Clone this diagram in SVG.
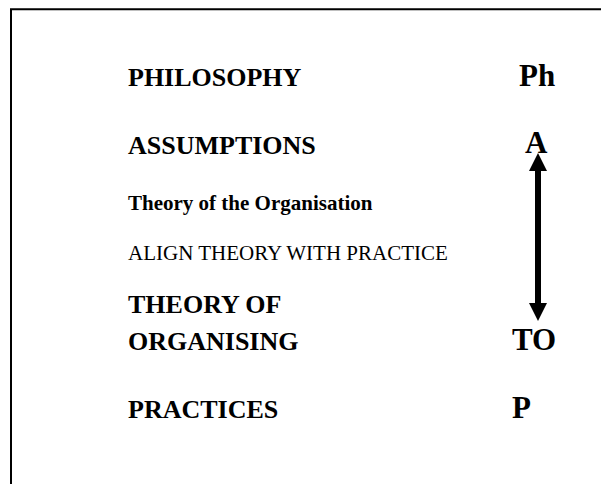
<svg xmlns="http://www.w3.org/2000/svg" width="601" height="484" viewBox="0 0 601 484">
<style>
.b{font-family:"Liberation Serif","Times New Roman",serif;font-weight:bold;fill:#000}
.r{font-family:"Liberation Serif","Times New Roman",serif;fill:#000}
.lg{font-size:26px}
.xl{font-size:31px}
.sm{font-size:21px}
</style>
<defs>
<marker id="ah" viewBox="0 0 10 10" refX="10" refY="5" markerWidth="3" markerHeight="3" orient="auto-start-reverse" markerUnits="strokeWidth">
<path d="M0,0 L10,5 L0,10 z" fill="#000"/>
</marker>
</defs>
<rect width="601" height="484" fill="#fff"/>
<path d="M11,484 V9.3 H601" fill="none" stroke="#000" stroke-width="2"/>
<g id="philosophy"><text class="b lg" x="128" y="86">PHILOSOPHY</text><text class="b xl" x="519" y="86">Ph</text></g>
<g id="assumptions"><text class="b lg" x="128" y="154">ASSUMPTIONS</text><text class="b xl" x="525" y="153">A</text></g>
<g id="theory-org"><text class="b sm" x="128" y="210">Theory of the Organisation</text></g>
<g id="align"><text class="r sm" x="128" y="260">ALIGN THEORY WITH PRACTICE</text></g>
<g id="theory-organising"><text class="b lg" x="128" y="313">THEORY OF</text><text class="b lg" x="128" y="350">ORGANISING</text><text class="b xl" x="512" y="350">TO</text></g>
<g id="practices"><text class="b lg" x="128" y="418">PRACTICES</text><text class="b xl" x="512" y="418">P</text></g>
<g id="connectors">
<line x1="538" y1="168" x2="538" y2="306" stroke="#000" stroke-width="6"/>
<path d="M538,153 L547,171 L529,171 z" fill="#000"/>
<path d="M538,321 L547,303 L529,303 z" fill="#000"/>
</g>
</svg>
